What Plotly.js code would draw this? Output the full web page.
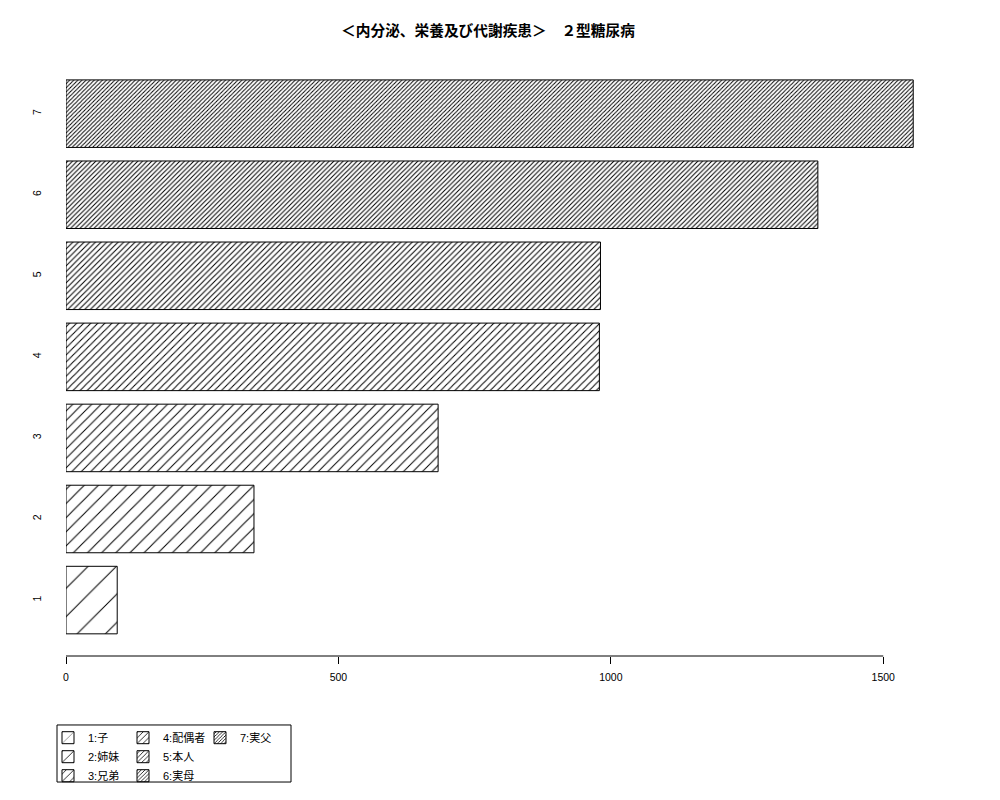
<!DOCTYPE html>
<html>
<head>
<meta charset="utf-8">
<script src="https://cdn.plot.ly/plotly-3.0.1.min.js"></script>
<style>
  html, body { margin: 0; padding: 0; background: #fff; }
  #chart { width: 1000px; height: 800px; }
</style>
</head>
<body>
<div id="chart"></div>
<script>
// ── データ ───────────────────────────────────────────
const categories = [1, 2, 3, 4, 5, 6, 7];
const legendNames = ['1:子', '2:姉妹', '3:兄弟', '4:配偶者', '5:本人', '6:実母', '7:実父'];
const values = [94, 345, 683, 979, 981, 1380, 1555];
const xTicks = [0, 500, 1000, 1500];

// 斜線の間隔 (px) — 密度が上がるほど細かく
const hatchGap = [20, 10, 6.7, 5, 4, 3.3, 2.9];
const HATCH_LINE = 1.0; // 斜線の太さ (px)
// 凡例の列割り (R の legend(ncol=3) と同じ列順)
const legendCols = ['legend', 'legend', 'legend', 'legend2', 'legend2', 'legend2', 'legend3'];

const FONT = '"Liberation Sans", "Noto Sans CJK JP", sans-serif';

const traces = categories.map((c, i) => ({
  type: 'bar',
  orientation: 'h',
  y: [c],
  x: [values[i]],
  width: 0.833,
  name: legendNames[i],
  legend: legendCols[i],
  marker: {
    color: '#ffffff',
    line: { color: '#000000', width: 1 },
    pattern: {
      shape: '/',
      size: hatchGap[i],
      // plotly は線幅 = solidity * size なので、太さを一定にする
      solidity: Math.min(HATCH_LINE / hatchGap[i], 0.45),
      fgcolor: '#000000',
      bgcolor: '#ffffff',
      fillmode: 'replace',
    },
  },
  hovertemplate: '%{y}: %{x}<extra></extra>',
}));

const legendBase = {
  orientation: 'v',
  xref: 'container',
  yref: 'container',
  yanchor: 'top',
  y: 0.096,
  xanchor: 'left',
  font: { family: FONT, size: 11, color: '#000' },
  bgcolor: 'rgba(0,0,0,0)',
  borderwidth: 0,
  itemwidth: 30,
  tracegroupgap: 0,
};

const layout = {
  width: 1000,
  height: 800,
  paper_bgcolor: '#ffffff',
  plot_bgcolor: '#ffffff',
  margin: { t: 51, b: 144, l: 66, r: 53, autoexpand: false },
  font: { family: FONT, color: '#000' },
  title: {
    text: '<b>＜内分泌、栄養及び代謝疾患＞　２型糖尿病</b>',
    x: 0.488,
    xref: 'container',
    xanchor: 'center',
    y: 0.968,
    yref: 'container',
    font: { family: '"Noto Sans CJK JP", sans-serif', size: 14.7, color: '#000' },
  },
  barmode: 'overlay',
  showlegend: true,
  xaxis: {
    range: [0, 1617],
    tickvals: xTicks,
    ticktext: xTicks.map(String),
    ticks: 'outside',
    ticklen: 7,
    tickcolor: '#000',
    ticklabelstandoff: 4,
    showgrid: false,
    zeroline: false,
    showline: false,
    tickfont: { family: FONT, size: 10.5, color: '#000' },
    fixedrange: true,
  },
  yaxis: {
    range: [0.31, 7.773],
    tickvals: categories,
    ticktext: categories.map(String),
    tickangle: -90,
    ticks: '',
    ticklabelstandoff: 22,
    showgrid: false,
    zeroline: false,
    showline: false,
    tickfont: { family: FONT, size: 10.5, color: '#000' },
    fixedrange: true,
  },
  legend:  { ...legendBase, x: 0.048 },
  legend2: { ...legendBase, x: 0.123 },
  legend3: { ...legendBase, x: 0.200 },
  shapes: [
    // R 風の軸線 (最初と最後の目盛りの間のみ)
    {
      type: 'line', xref: 'x', yref: 'paper',
      x0: xTicks[0], x1: xTicks[xTicks.length - 1], y0: 0, y1: 0,
      line: { color: '#000', width: 1 },
    },
    // 凡例の枠
    {
      type: 'rect', xref: 'paper', yref: 'paper',
      x0: -0.0102, x1: 0.2554, y0: -0.114, y1: -0.2083,
      line: { color: '#000', width: 1 },
    },
  ],
};

Plotly.newPlot('chart', traces, layout, { displayModeBar: false, staticPlot: true });
</script>
</body>
</html>
